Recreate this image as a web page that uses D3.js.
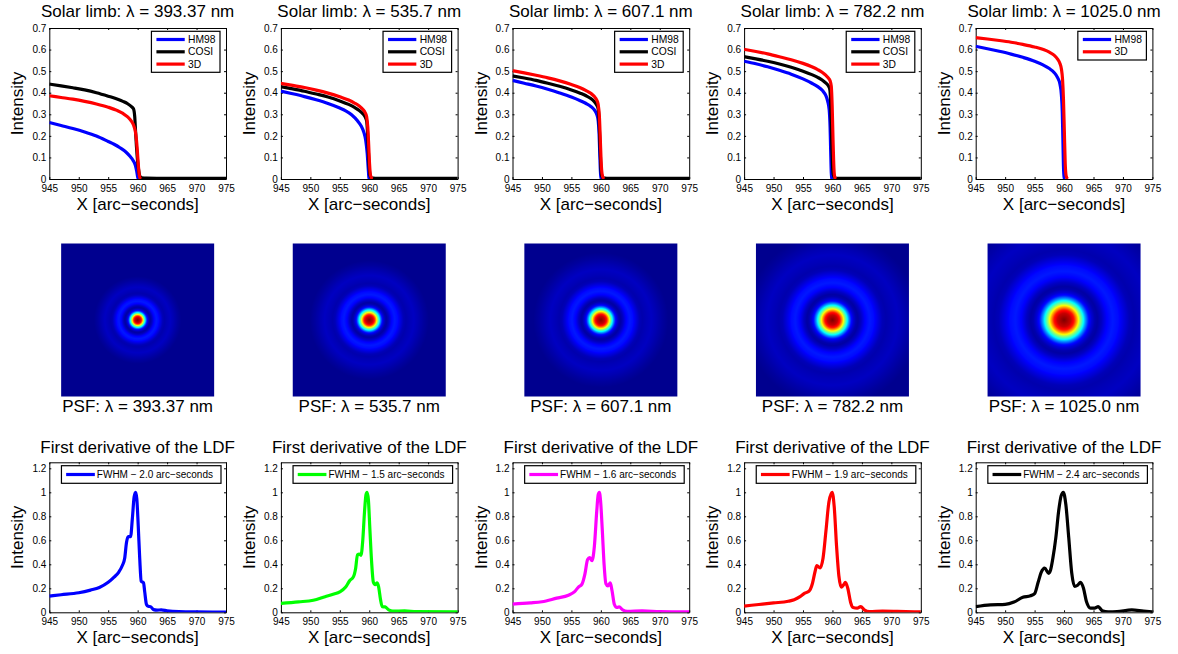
<!DOCTYPE html>
<html><head><meta charset="utf-8">
<script src="https://cdn.jsdelivr.net/npm/d3@7"></script>
<style>
body{margin:0;background:#fff}
svg{display:block;font-family:"Liberation Sans",Arial,Helvetica,sans-serif}
</style></head>
<body><svg id="c" width="1178" height="654"></svg>
<script>
// ---------------- DATA ----------------
const wavelengths = ["393.37", "535.7", "607.1", "782.2", "1025.0"];
const wavelengthNm = [393.37, 535.7, 607.1, 782.2, 1025.0];
const xTicks = [945, 950, 955, 960, 965, 970, 975];
const limbYTicks = [0, 0.1, 0.2, 0.3, 0.4, 0.5, 0.6, 0.7];
const ldfYTicks = [0, 0.2, 0.4, 0.6, 0.8, 1, 1.2];
const ldfFwhm = ["2.0", "1.5", "1.6", "1.9", "2.4"];

// Solar limb intensity profiles [x arcsec, intensity]
const hm98_393 = [[945,0.262],[947,0.248],[949,0.234],[951,0.218],[953,0.199],[955,0.174],[956,0.161],[957,0.145],[958,0.125],[958.7,0.105],[959.2,0.087],[959.6,0.065],[959.85,0.035],[960,0.01],[960.15,0]];
const cosi_393 = [[945,0.440],[947,0.432],[949,0.423],[951,0.413],[953,0.400],[955,0.384],[956.5,0.371],[957.5,0.360],[958.3,0.349],[959,0.334],[959.3,0.325],[959.5,0.29],[959.65,0.22],[959.8,0.15],[960,0.08],[960.2,0.035],[960.4,0.012],[960.7,0.006],[961.5,0.004],[965,0.003],[975,0.003]];
const d3_393 = [[945,0.386],[947,0.378],[949,0.370],[951,0.360],[953,0.348],[955,0.333],[956.5,0.318],[957.5,0.304],[958.3,0.288],[958.9,0.270],[959.3,0.250],[959.6,0.222],[959.8,0.18],[959.95,0.13],[960.1,0.07],[960.25,0.025],[960.4,0.005],[960.6,0]];

const hm98_535 = [[945,0.407],[947,0.395],[949,0.382],[951,0.367],[953,0.350],[955,0.329],[956,0.316],[957,0.298],[958,0.270],[958.6,0.247],[959.1,0.215],[959.4,0.18],[959.65,0.12],[959.85,0.04],[959.95,0.005],[960.05,0]];
const cosi_535 = [[945,0.428],[947,0.418],[949,0.407],[951,0.394],[953,0.380],[955,0.362],[956.5,0.346],[957.5,0.332],[958.3,0.318],[958.9,0.303],[959.3,0.288],[959.55,0.27],[959.7,0.22],[959.85,0.13],[960,0.05],[960.15,0.015],[960.4,0.005],[961,0.003],[975,0.003]];
const d3_535 = [[945,0.443],[947,0.434],[949,0.424],[951,0.412],[953,0.398],[955,0.381],[956.5,0.366],[957.5,0.352],[958.3,0.338],[958.9,0.323],[959.3,0.308],[959.55,0.29],[959.75,0.24],[959.9,0.16],[960.05,0.07],[960.2,0.02],[960.4,0.004],[960.6,0]];

const hm98_607 = [[945,0.457],[947,0.444],[949,0.431],[951,0.416],[953,0.399],[955,0.380],[956.5,0.363],[957.5,0.350],[958.3,0.336],[958.9,0.320],[959.3,0.30],[959.55,0.27],[959.7,0.21],[959.8,0.13],[959.9,0.05],[960,0.01],[960.1,0]];
const cosi_607 = [[945,0.478],[947,0.468],[949,0.457],[951,0.444],[953,0.430],[955,0.413],[956.5,0.398],[957.5,0.386],[958.3,0.373],[958.9,0.358],[959.3,0.343],[959.55,0.325],[959.7,0.27],[959.85,0.16],[960,0.06],[960.15,0.015],[960.4,0.005],[961,0.003],[975,0.003]];
const d3_607 = [[945,0.502],[947,0.492],[949,0.481],[951,0.469],[953,0.455],[955,0.438],[956.5,0.423],[957.5,0.410],[958.3,0.397],[958.9,0.382],[959.3,0.366],[959.55,0.345],[959.75,0.29],[959.9,0.19],[960.05,0.08],[960.2,0.025],[960.4,0.005],[960.6,0]];

const hm98_782 = [[945,0.546],[947,0.534],[949,0.520],[951,0.504],[953,0.486],[955,0.464],[956.5,0.444],[957.5,0.428],[958.3,0.410],[958.9,0.385],[959.2,0.36],[959.45,0.32],[959.6,0.24],[959.7,0.13],[959.8,0.03],[959.9,0]];
const cosi_782 = [[945,0.567],[947,0.557],[949,0.546],[951,0.533],[953,0.518],[955,0.500],[956.5,0.484],[957.5,0.471],[958.3,0.458],[958.9,0.444],[959.3,0.432],[959.55,0.415],[959.7,0.35],[959.85,0.20],[960,0.07],[960.15,0.02],[960.4,0.006],[961,0.003],[975,0.003]];
const d3_782 = [[945,0.601],[947,0.591],[949,0.580],[951,0.567],[953,0.553],[955,0.536],[956.5,0.520],[957.5,0.507],[958.3,0.494],[958.9,0.480],[959.3,0.468],[959.6,0.455],[959.8,0.43],[959.95,0.34],[960.1,0.18],[960.25,0.05],[960.4,0.008],[960.6,0]];

const hm98_1025 = [[945,0.615],[947,0.604],[949,0.592],[951,0.579],[953,0.564],[955,0.546],[956.5,0.528],[957.5,0.512],[958.3,0.494],[958.9,0.470],[959.3,0.44],[959.55,0.39],[959.7,0.31],[959.8,0.19],[959.9,0.06],[960,0.01],[960.1,0]];
const d3_1025 = [[945,0.655],[947,0.649],[949,0.642],[951,0.634],[953,0.624],[955,0.612],[956.5,0.600],[957.5,0.588],[958.3,0.574],[958.9,0.556],[959.3,0.536],[959.55,0.51],[959.75,0.46],[959.9,0.37],[960.05,0.22],[960.2,0.07],[960.35,0.015],[960.6,0]];

// First derivative of the LDF (normalised) [x arcsec, value]
const ldf_393 = [[945,0.135],[947,0.146],[950,0.163],[952,0.185],[953.5,0.207],[955,0.25],[956,0.293],[956.8,0.335],[957.4,0.39],[957.8,0.45],[958.1,0.58],[958.4,0.63],[958.8,0.63],[959.1,0.78],[959.4,0.96],[959.65,1.0],[959.85,0.95],[960.1,0.72],[960.35,0.45],[960.6,0.26],[961.0,0.245],[961.2,0.17],[961.5,0.065],[961.8,0.05],[962.2,0.047],[962.7,0.022],[963.3,0.018],[964,0.02],[965,0.012],[967,0.005],[970,0.003],[975,0.002]];
const ldf_535 = [[945,0.075],[948,0.087],[950.5,0.10],[952.5,0.13],[954,0.152],[955,0.17],[956,0.21],[956.7,0.265],[957.3,0.295],[957.7,0.37],[958,0.48],[958.3,0.485],[958.6,0.475],[958.9,0.6],[959.2,0.84],[959.45,0.98],[959.63,1.0],[959.85,0.94],[960.1,0.7],[960.4,0.42],[960.7,0.25],[961.0,0.23],[961.3,0.245],[961.6,0.21],[961.9,0.11],[962.2,0.047],[962.7,0.045],[963.3,0.02],[964,0.01],[966,0.012],[968,0.006],[975,0.003]];
const ldf_607 = [[945,0.068],[948,0.078],[950,0.088],[952.5,0.118],[954.5,0.142],[955.5,0.17],[956.2,0.21],[956.8,0.235],[957.3,0.32],[957.75,0.44],[958.1,0.455],[958.5,0.43],[958.9,0.55],[959.3,0.84],[959.55,0.98],[959.75,1.0],[959.95,0.93],[960.25,0.68],[960.55,0.4],[960.85,0.24],[961.2,0.22],[961.6,0.245],[961.9,0.18],[962.3,0.065],[962.7,0.04],[963.1,0.045],[963.7,0.02],[964.5,0.008],[967,0.012],[970,0.006],[975,0.003]];
const ldf_782 = [[945,0.052],[947.5,0.065],[950,0.078],[952.5,0.092],[953.5,0.105],[954.5,0.13],[955.3,0.16],[956,0.175],[956.6,0.24],[957.05,0.34],[957.35,0.39],[957.9,0.37],[958.4,0.45],[958.9,0.68],[959.4,0.92],[959.95,1.0],[960.3,0.88],[960.7,0.55],[961.1,0.3],[961.5,0.21],[961.9,0.23],[962.2,0.25],[962.6,0.2],[963.1,0.08],[963.5,0.04],[964.2,0.035],[964.8,0.048],[965.4,0.02],[966.3,0.005],[968.5,0.01],[971,0.008],[975,0.003]];
const ldf_1025 = [[945,0.047],[947.5,0.062],[950,0.066],[951.5,0.085],[953,0.125],[954.3,0.138],[955,0.155],[955.6,0.25],[956.1,0.33],[956.7,0.368],[957.4,0.325],[957.7,0.35],[958.1,0.45],[958.6,0.62],[959.1,0.85],[959.5,0.97],[959.88,1.0],[960.3,0.9],[960.8,0.62],[961.3,0.33],[961.8,0.215],[962.3,0.225],[962.8,0.25],[963.3,0.2],[963.8,0.09],[964.5,0.035],[965.2,0.035],[965.8,0.047],[966.5,0.012],[967.5,0.004],[969,0.006],[971.5,0.02],[973.5,0.01],[975,0.004]];

// PSF radial profile: radius in units of first dark ring, colormap level
const psfRadius = [0, 0.2, 0.3, 0.41, 0.48, 0.57, 0.64, 0.73, 0.82, 0.92, 1.0, 1.12, 1.28, 1.45, 1.62, 1.8, 1.95, 2.1, 2.3, 2.55, 2.8, 3.1, 3.4];
const psfLevel  = [1.0, 0.93, 0.85, 0.66, 0.52, 0.38, 0.26, 0.13, 0.07, 0.03, 0.02, 0.05, 0.11, 0.135, 0.12, 0.075, 0.04, 0.03, 0.04, 0.05, 0.035, 0.015, 0.0];

// ---------------- LAYOUT / STYLE ----------------
const svg = d3.select("#c");
const FONT = '"Liberation Sans",Arial,Helvetica,sans-serif';
const colLeft = i => 49.3 + i * 231.6;
const PW = 176.7;
const limbRow = {top: 28, bottom: 179};
const ldfRow = {top: 462.3, bottom: 612.3};
const psfCy = 320, psfSize = 153;

const limbSeries = [
  [{name:"HM98", data:hm98_393, color:"#0000ff"},{name:"COSI", data:cosi_393, color:"#000000"},{name:"3D", data:d3_393, color:"#ff0000"}],
  [{name:"HM98", data:hm98_535, color:"#0000ff"},{name:"COSI", data:cosi_535, color:"#000000"},{name:"3D", data:d3_535, color:"#ff0000"}],
  [{name:"HM98", data:hm98_607, color:"#0000ff"},{name:"COSI", data:cosi_607, color:"#000000"},{name:"3D", data:d3_607, color:"#ff0000"}],
  [{name:"HM98", data:hm98_782, color:"#0000ff"},{name:"COSI", data:cosi_782, color:"#000000"},{name:"3D", data:d3_782, color:"#ff0000"}],
  [{name:"HM98", data:hm98_1025, color:"#0000ff"},{name:"3D", data:d3_1025, color:"#ff0000"}]
];
const ldfData = [ldf_393, ldf_535, ldf_607, ldf_782, ldf_1025];
const ldfColors = ["#0000ff", "#00ff00", "#ff00ff", "#ff0000", "#000000"];

const jet = d3.scaleLinear()
  .domain([0, 0.111, 0.365, 0.619, 0.873, 1])
  .range(["#00008f", "#0000ff", "#00ffff", "#ffff00", "#ff0000", "#800000"])
  .clamp(true);

const defs = svg.append("defs");

function drawAxes(g, x, y, yTicks) {
  const [y0, y1] = y.range();
  const [x0, x1] = x.range();
  const style = sel => {
    sel.attr("font-family", FONT).attr("font-size", 10);
    sel.selectAll(".domain").attr("stroke", "#000").attr("stroke-width", 1);
    sel.selectAll(".tick line").attr("stroke", "#000").attr("stroke-width", 1);
    sel.selectAll(".tick text").attr("fill", "#000");
  };
  g.append("g").attr("transform", `translate(0,${y0})`)
    .call(d3.axisBottom(x).tickValues(xTicks).tickSize(-2).tickSizeOuter(0).tickPadding(5.5).tickFormat(d3.format("d"))).call(style);
  g.append("g").attr("transform", `translate(0,${y1})`)
    .call(d3.axisTop(x).tickValues(xTicks).tickSize(-2).tickSizeOuter(0).tickFormat("")).call(style);
  g.append("g").attr("transform", `translate(${x0},0)`)
    .call(d3.axisLeft(y).tickValues(yTicks).tickSize(-2).tickSizeOuter(0).tickPadding(3).tickFormat(d3.format("~g"))).call(style);
  g.append("g").attr("transform", `translate(${x1},0)`)
    .call(d3.axisRight(y).tickValues(yTicks).tickSize(-2).tickSizeOuter(0).tickFormat("")).call(style);
}

function labels(g, x, y, title, titleY) {
  const [y0, y1] = y.range();
  const [x0, x1] = x.range();
  const cx = (x0 + x1) / 2;
  g.append("text").attr("x", cx).attr("y", titleY).attr("text-anchor", "middle")
    .attr("font-size", 17).attr("fill", "#000").text(title);
  g.append("text").attr("x", cx).attr("y", y0 + 30.5).attr("text-anchor", "middle")
    .attr("font-size", 17).attr("fill", "#000").text("X [arc\u2212seconds]");
  g.append("text").attr("transform", `translate(${x0 - 26},${(y0 + y1) / 2}) rotate(-90)`)
    .attr("text-anchor", "middle").attr("font-size", 17).attr("fill", "#000").text("Intensity");
}

function legend(g, x, y, items, opts) {
  const [x0, x1] = x.range();
  const top = y.range()[1] + opts.topInset;
  const lg = g.append("g");
  const box = lg.append("rect");
  const texts = items.map((it, k) => lg.append("text")
    .attr("font-size", opts.fontSize).attr("fill", "#000")
    .attr("y", top + opts.firstRow + k * opts.rowStep).attr("dy", "0.35em").text(it.label));
  const tw = d3.max(texts, t => t.node().getComputedTextLength());
  const w = opts.padL + opts.lineLen + opts.gap + tw + opts.padR;
  const h = opts.firstRow * 2 + (items.length - 1) * opts.rowStep;
  const left = x1 - opts.rightInset - w;
  box.attr("x", left).attr("y", top).attr("width", w).attr("height", h)
    .attr("fill", "#fff").attr("stroke", "#000").attr("stroke-width", 1.2);
  items.forEach((it, k) => {
    const yy = top + opts.firstRow + k * opts.rowStep;
    lg.append("line").attr("x1", left + opts.padL).attr("x2", left + opts.padL + opts.lineLen)
      .attr("y1", yy).attr("y2", yy).attr("stroke", it.color).attr("stroke-width", 3.2);
    texts[k].attr("x", left + opts.padL + opts.lineLen + opts.gap);
  });
}

const line = (x, y) => d3.line().x(d => x(d[0])).y(d => y(d[1])).curve(d3.curveMonotoneX);

for (let i = 0; i < 5; i++) {
  const x0 = colLeft(i), x1 = x0 + PW;

  // ---- Row 1: solar limb ----
  {
    const x = d3.scaleLinear().domain([945, 975]).range([x0, x1]);
    const y = d3.scaleLinear().domain([0, 0.7]).range([limbRow.bottom, limbRow.top]);
    const g = svg.append("g");
    const cid = "clipL" + i;
    defs.append("clipPath").attr("id", cid).append("rect")
      .attr("x", x0).attr("y", limbRow.top).attr("width", PW).attr("height", limbRow.bottom - limbRow.top);
    drawAxes(g, x, y, limbYTicks);
    const lg = g.append("g").attr("clip-path", `url(#${cid})`);
    limbSeries[i].forEach(s => {
      lg.append("path").datum(s.data).attr("d", line(x, y)).attr("fill", "none")
        .attr("stroke", s.color).attr("stroke-width", 3.2).attr("stroke-linejoin", "round");
    });
    labels(g, x, y, "Solar limb: \u03bb = " + wavelengths[i] + " nm", 17.3);
    legend(g, x, y, limbSeries[i].map(s => ({label: s.name, color: s.color})),
      {topInset: 3.3, firstRow: 8.2, rowStep: 12.3, padL: 5, lineLen: 28.3, gap: 3.3, padR: 4.5, rightInset: 6, fontSize: 10.3});
  }

  // ---- Row 2: PSF ----
  {
    const cx = x0 + PW / 2;
    const r1 = d3.scaleLinear().domain([0, 1025]).range([0, 33.5])(wavelengthNm[i]);
    const rMax = psfRadius[psfRadius.length - 1];
    const profile = d3.scaleLinear().domain(psfRadius).range(psfLevel).clamp(true);
    const gid = "psf" + i;
    const grad = defs.append("radialGradient").attr("id", gid).attr("gradientUnits", "userSpaceOnUse")
      .attr("cx", cx).attr("cy", psfCy).attr("r", rMax * r1).attr("fx", cx).attr("fy", psfCy);
    const N = 240;
    d3.range(N + 1).forEach(k => {
      const rn = k / N * rMax;
      grad.append("stop").attr("offset", k / N).attr("stop-color", jet(profile(rn)));
    });
    svg.append("rect").attr("x", cx - psfSize / 2).attr("y", psfCy - psfSize / 2)
      .attr("width", psfSize).attr("height", psfSize).attr("fill", `url(#${gid})`);
    svg.append("text").attr("x", cx).attr("y", 411.7).attr("text-anchor", "middle")
      .attr("font-size", 17).attr("fill", "#000").text("PSF: \u03bb = " + wavelengths[i] + " nm");
  }

  // ---- Row 3: first derivative of the LDF ----
  {
    const x = d3.scaleLinear().domain([945, 975]).range([x0, x1]);
    const y = d3.scaleLinear().domain([0, 1.25]).range([ldfRow.bottom, ldfRow.top]);
    const g = svg.append("g");
    const cid = "clipD" + i;
    defs.append("clipPath").attr("id", cid).append("rect")
      .attr("x", x0).attr("y", ldfRow.top).attr("width", PW).attr("height", ldfRow.bottom - ldfRow.top);
    drawAxes(g, x, y, ldfYTicks);
    g.append("g").attr("clip-path", `url(#${cid})`).append("path").datum(ldfData[i])
      .attr("d", line(x, y)).attr("fill", "none").attr("stroke", ldfColors[i])
      .attr("stroke-width", 3.2).attr("stroke-linejoin", "round");
    labels(g, x, y, "First derivative of the LDF", 453);
    legend(g, x, y, [{label: "FWHM \u2212 " + ldfFwhm[i] + " arc\u2212seconds", color: ldfColors[i]}],
      {topInset: 3.4, firstRow: 8.8, rowStep: 12, padL: 4.7, lineLen: 28.7, gap: 2, padR: 8, rightInset: 5, fontSize: 10});
  }
}
</script></body></html>
